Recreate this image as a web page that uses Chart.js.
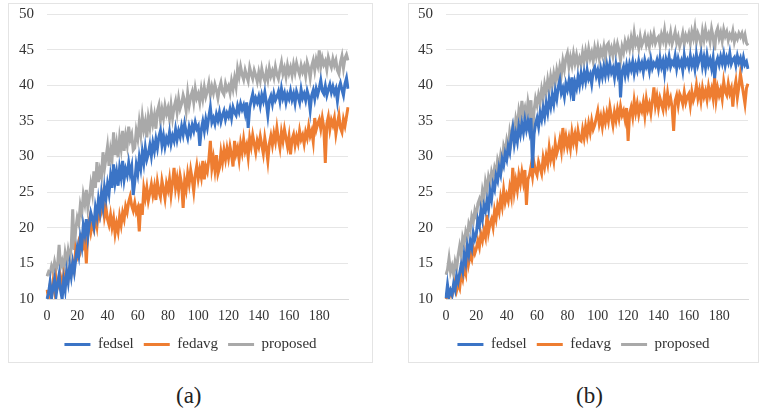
<!DOCTYPE html>
<html>
<head>
<meta charset="utf-8">
<script src="https://cdn.jsdelivr.net/npm/chart.js@4/dist/chart.umd.min.js"></script>
<style>
  body { margin: 0; background: #fff; width: 759px; height: 415px; position: relative; overflow: hidden; }
  .panel { position: absolute; top: 3px; height: 360px; border: 1px solid #e4e4e4; box-sizing: border-box; }
  #panel-a { left: 8px; width: 365px; }
  #panel-b { left: 408px; width: 351px; }
  .caption { position: absolute; top: 383px; font-family: "Liberation Serif", serif; font-size: 23px; color: #222; }
</style>
</head>
<body>
<div class="panel" id="panel-a"><canvas id="chart-a"></canvas></div>
<div class="panel" id="panel-b"><canvas id="chart-b"></canvas></div>
<div class="caption" style="left:176px">(a)</div>
<div class="caption" style="left:576px">(b)</div>
<script>
// x categories: communication rounds
const rounds = Array.from({ length: 200 }, (_, i) => i);
const xTickLabels = [0, 20, 40, 60, 80, 100, 120, 140, 160, 180];
const yTickLabels = [10, 15, 20, 25, 30, 35, 40, 45, 50];
const seriesNames = ["fedsel", "fedavg", "proposed"];
const seriesColors = ["#3b74c6", "#ee7d31", "#a9a9a9"];

// panel (a)
const fedselA = [
  10.0,10.8,12.3,10.2,11.6,12.8,10.5,12.1,13.4,11.2,10.0,12.6,11.3,13.8,12.4,14.6,13.2,15.1,13.8,15.6,
  17.2,16.1,18.6,17.4,20.3,19.1,21.2,18.8,20.6,22.1,21.3,20.2,22.8,21.6,23.9,22.4,24.8,23.1,25.6,24.2,
  26.1,24.8,27.2,25.6,28.9,26.4,27.8,25.9,28.4,27.1,29.4,26.8,28.2,27.4,29.1,27.6,28.6,24.6,26.4,28.8,
  27.6,29.8,28.4,30.6,29.1,31.2,29.6,30.4,31.6,30.1,31.9,30.8,32.4,31.2,32.8,33.6,31.6,32.9,31.4,32.6,
  32.0,33.4,31.8,32.9,32.2,33.8,32.4,33.6,32.8,34.2,33.1,34.6,33.4,32.6,34.1,33.2,34.4,33.6,34.8,33.9,
  34.3,31.5,33.8,34.9,33.6,35.2,34.1,35.6,36.9,34.8,35.4,34.6,35.9,35.1,36.2,34.9,35.8,36.4,35.2,36.1,
  35.6,36.6,35.4,36.9,36.2,35.8,37.1,36.3,37.4,36.6,37.2,36.1,37.6,34.0,36.8,37.9,38.8,37.4,38.2,37.6,
  38.4,37.2,38.6,37.8,39.0,37.6,35.8,37.9,38.5,37.4,38.8,37.9,38.4,39.1,37.8,39.5,38.2,38.9,37.6,38.7,
  38.1,39.2,38.0,38.8,37.5,39.1,38.4,37.6,39.4,38.2,38.8,37.9,39.2,38.4,36.5,38.6,39.3,38.1,39.5,38.7,
  39.6,40.7,39.2,38.8,39.9,38.6,39.4,40.1,39.0,39.8,38.9,39.5,37.8,39.6,40.3,39.4,38.6,40.2,41.0,39.5
];
const fedavgA = [
  11.3,10.2,11.8,10.6,12.4,11.1,12.9,11.6,12.2,13.1,12.0,13.4,12.4,13.8,12.8,14.2,13.6,15.1,14.3,17.0,
  16.2,17.8,16.9,18.4,17.6,18.9,15.0,19.6,21.0,19.4,20.6,19.8,21.4,20.2,22.6,21.5,22.3,24.1,21.6,22.8,
  21.2,20.4,21.8,20.1,21.3,19.2,20.6,19.5,21.6,20.4,22.1,21.2,23.0,22.2,23.6,24.4,23.1,22.4,23.5,22.2,
  22.8,19.5,23.4,21.8,25.5,24.2,25.6,23.8,24.9,26.1,24.6,25.8,23.9,26.4,25.1,24.3,26.6,25.4,24.1,26.2,
  25.3,26.8,24.6,26.4,28.4,25.6,26.9,25.2,27.3,26.1,22.8,26.6,25.4,27.6,26.2,28.1,26.8,25.1,27.4,28.7,
  26.9,28.2,27.1,29.4,26.8,28.6,27.9,29.6,32.2,28.4,29.8,28.1,30.2,27.6,28.4,30.6,29.2,30.9,29.6,31.1,
  29.8,31.4,30.2,28.6,32.2,30.4,31.2,29.6,31.8,30.6,32.4,30.8,31.6,29.9,32.6,31.4,33.0,31.8,30.6,32.2,
  31.4,32.8,31.6,30.4,32.6,31.2,29.4,31.8,32.9,31.6,33.2,32.1,34.0,32.4,31.2,33.4,32.2,33.8,32.6,31.4,
  32.8,30.3,32.4,33.1,31.6,32.8,31.9,33.6,32.4,33.0,31.8,33.4,32.6,34.2,32.9,33.6,32.1,35.4,33.8,34.6,
  35.2,33.9,35.4,34.1,29.1,34.6,35.6,33.8,35.1,34.4,35.4,33.2,34.6,35.8,34.0,33.4,35.2,34.3,35.6,36.9
];
const proposedA = [
  13.2,13.8,13.5,14.6,13.9,15.2,14.1,14.8,17.6,14.5,15.3,14.2,16.4,15.1,16.8,15.6,17.2,22.6,16.9,19.8,
  21.4,20.6,23.1,22.0,24.6,23.4,25.3,22.8,24.2,26.1,24.8,27.9,25.6,29.2,26.4,28.1,27.2,30.6,28.3,29.8,
  31.4,28.7,30.9,29.6,33.4,30.2,31.8,29.9,32.6,31.1,33.6,30.8,32.9,31.6,34.2,32.4,33.1,30.9,31.2,33.6,
  32.5,34.8,33.1,35.6,33.8,34.9,32.7,35.4,34.1,36.2,34.6,35.8,33.9,36.4,37.2,35.1,36.6,35.4,37.1,36.0,
  36.8,35.3,37.2,35.4,36.9,37.8,36.2,38.1,36.7,37.4,38.6,37.8,36.4,38.9,37.2,38.4,39.1,37.6,39.5,38.2,
  38.8,37.6,39.4,38.1,39.7,38.4,39.2,40.3,38.6,39.8,38.9,40.1,39.3,38.2,39.6,40.4,39.1,38.7,40.2,39.4,
  39.9,38.9,40.6,39.5,41.0,39.8,42.3,41.2,42.6,41.5,40.8,42.1,41.3,40.6,42.5,41.6,40.9,42.1,41.4,40.5,
  41.8,40.7,42.3,41.2,40.6,41.9,40.8,42.4,41.3,42.0,41.1,42.6,41.5,40.9,42.2,43.2,41.6,42.4,41.2,42.8,
  41.7,42.5,41.4,42.9,41.8,43.1,42.2,41.5,42.8,41.9,42.6,41.3,43.2,42.4,41.0,42.7,43.5,42.1,43.6,42.8,
  44.9,42.6,43.8,42.9,43.4,42.2,43.9,43.1,42.5,43.7,42.8,43.5,42.1,41.6,43.2,44.1,42.4,43.8,44.3,43.5
];

// panel (b)
const fedselB = [
  10.1,12.0,10.4,11.2,10.6,12.1,11.3,13.2,12.4,13.6,14.8,13.9,16.2,15.1,17.4,16.3,18.1,17.2,19.3,18.4,
  19.2,21.1,20.3,22.4,21.2,23.1,22.4,23.8,22.6,25.1,24.0,26.1,25.4,27.3,26.6,28.4,27.5,29.6,28.8,30.4,
  29.6,31.4,30.6,32.8,34.0,31.8,33.2,32.1,34.2,33.1,34.6,33.4,35.1,33.8,34.9,33.6,35.4,28.4,33.1,34.6,
  35.4,34.2,36.1,35.2,36.8,35.6,37.4,36.2,38.1,37.0,38.6,37.4,39.2,38.1,39.8,40.7,38.9,39.6,38.4,40.2,
  39.4,40.6,39.2,41.1,37.8,40.4,39.6,41.2,40.0,41.6,40.4,41.8,40.6,42.1,40.9,41.5,40.2,42.0,42.5,41.3,
  42.1,40.8,42.3,41.2,42.6,41.4,42.8,41.6,43.0,41.8,42.4,41.1,42.9,41.7,43.2,38.3,41.9,42.6,41.4,42.8,
  41.6,43.0,42.2,43.3,41.7,42.9,42.1,43.4,42.4,43.1,41.9,43.5,42.6,43.2,42.0,43.6,42.4,43.1,42.7,43.5,
  42.3,43.8,42.6,43.4,41.7,43.6,42.8,44.0,42.6,43.3,42.9,44.1,42.4,43.7,42.8,43.4,42.1,44.2,42.9,43.5,
  42.6,44.1,42.8,43.6,42.3,44.3,42.9,43.7,44.5,42.7,43.9,42.5,44.2,42.9,43.6,42.4,43.8,41.0,43.1,43.8,
  42.9,44.0,43.1,44.3,42.8,43.9,43.2,44.5,43.0,43.6,43.9,42.8,44.1,43.2,43.8,42.7,43.9,42.9,43.3,42.3
];
const fedavgB = [
  10.0,10.6,10.2,11.1,10.5,11.4,12.4,11.2,12.1,11.5,13.6,12.8,14.4,13.6,17.6,15.1,16.3,15.6,17.2,16.4,
  17.1,18.2,17.3,19.1,18.2,19.6,18.7,21.8,19.4,20.6,21.2,20.1,22.4,21.3,23.1,22.2,24.2,23.0,25.3,23.6,
  24.6,23.8,25.6,24.4,28.4,25.1,26.6,25.3,27.4,26.2,27.8,26.4,28.1,23.2,26.8,27.4,28.6,27.2,29.1,28.0,
  27.4,29.2,28.4,27.6,29.8,28.6,30.1,29.0,31.2,29.6,30.6,29.4,31.8,30.4,31.2,32.4,30.9,34.0,31.6,32.8,
  31.4,32.6,31.2,33.4,32.0,33.1,31.6,33.6,32.4,32.2,33.8,32.6,34.2,33.0,34.6,33.4,35.0,33.8,34.4,35.4,
  36.4,34.6,35.6,34.2,35.9,34.8,36.1,35.0,36.9,35.6,34.4,36.2,35.1,36.6,35.4,37.0,35.8,36.4,35.2,36.8,
  32.2,36.0,36.9,35.6,37.8,36.2,37.4,35.9,37.1,36.4,37.6,35.8,38.0,36.6,37.4,36.1,37.8,39.7,37.2,38.4,
  36.8,38.2,37.4,36.6,38.6,37.1,38.9,37.4,38.2,36.9,33.6,37.8,38.6,37.2,38.8,38.3,37.4,39.0,37.6,38.4,
  38.8,37.2,39.1,37.9,38.6,40.0,38.2,39.3,37.8,39.6,38.4,39.2,38.0,39.8,38.6,39.5,38.2,41.1,38.0,39.6,
  38.6,39.4,38.1,40.5,39.1,38.6,40.2,38.9,39.6,37.0,39.4,40.6,38.3,39.8,41.6,40.2,38.8,37.4,39.6,40.2
];
const proposedB = [
  13.4,14.1,15.7,13.8,14.6,13.5,15.2,14.3,16.1,17.4,16.2,18.6,17.8,19.4,18.6,20.5,19.8,21.6,20.9,22.4,
  21.6,23.4,24.0,23.1,25.2,24.1,26.4,25.3,27.1,26.2,27.8,26.9,28.4,27.6,29.5,28.7,30.2,29.1,31.4,30.6,
  32.2,31.1,33.4,32.2,34.1,33.0,35.2,34.1,36.4,35.3,37.8,35.9,36.8,35.4,37.6,36.2,37.9,33.2,36.4,38.1,
  37.2,38.6,37.6,39.4,38.2,40.1,39.0,40.7,39.3,41.2,40.0,41.6,40.4,42.1,41.0,42.6,41.5,43.4,42.2,43.8,
  44.5,42.6,43.9,42.8,44.4,43.1,44.2,42.9,43.8,43.0,44.6,43.4,44.8,43.6,45.1,43.8,44.6,43.4,45.2,44.1,
  45.3,43.8,45.0,44.2,45.4,43.9,45.6,45.9,44.4,45.2,44.1,45.6,44.6,45.8,44.9,43.5,45.4,44.6,46.1,45.2,
  46.2,45.1,46.6,45.4,47.3,45.8,46.4,45.2,46.8,45.6,46.2,47.0,45.7,46.6,45.4,46.9,46.1,47.2,45.9,46.5,
  46.8,45.6,47.1,46.3,47.7,45.9,46.9,46.2,47.4,45.8,46.6,47.5,46.0,46.8,45.5,46.3,47.3,45.8,47.0,46.4,
  47.2,45.9,47.5,46.6,48.0,46.1,47.3,46.7,45.7,47.6,46.4,47.8,46.6,47.2,46.1,47.9,46.8,44.9,47.4,48.0,
  46.6,47.4,46.2,47.8,46.9,47.5,46.3,47.1,46.6,47.6,46.1,47.0,46.5,47.3,46.8,47.3,46.4,47.1,45.9,45.6
];

Chart.defaults.font.family = "'Liberation Serif', 'Times New Roman', serif";
Chart.defaults.font.size = 14;
Chart.defaults.color = "#333";

const makeChart = (canvasId, values, yAxisWidth, rightGap) => {
    const ctx = document.getElementById(canvasId).getContext("2d");
    return new Chart(ctx, {
        type: "line",
        data: {
            labels: rounds,
            datasets: values.map((v, k) => ({
                label: seriesNames[k],
                data: v,
                borderColor: seriesColors[k],
                backgroundColor: seriesColors[k],
                borderWidth: 3,
                pointRadius: 0,
                tension: 0,
                pointStyle: "line",
            })),
        },
        options: {
            responsive: false,
            animation: false,
            layout: { padding: { top: 10, right: 0, bottom: 0, left: 0 } },
            plugins: {
                tooltip: { enabled: false },
                legend: {
                    position: "bottom",
                    labels: {
                        usePointStyle: true,
                        pointStyleWidth: 26,
                        padding: 10,
                        color: "#333",
                        font: { size: 15 },
                    },
                },
            },
            scales: {
                x: {
                    grid: { display: false, drawTicks: false },
                    border: { color: "#d9d9d9" },
                    afterFit: (scale) => { scale.height = 28; },
                    ticks: {
                        autoSkip: false,
                        maxRotation: 0,
                        padding: 9,
                        callback: (val, i) => (xTickLabels.includes(rounds[i]) ? rounds[i] : ""),
                    },
                },
                y: {
                    min: yTickLabels[0],
                    max: yTickLabels[yTickLabels.length - 1],
                    afterFit: (scale) => {
                        scale.width = yAxisWidth;
                        scale.paddingTop = 0;
                        scale.paddingBottom = 0;
                    },
                    grid: { color: "#e6e6e6", drawTicks: false },
                    border: { display: false },
                    ticks: { stepSize: 5, padding: 13, font: { size: 15 } },
                },
                // empty right axis keeps the plot narrower than the legend row
                gap: {
                    position: "right",
                    display: true,
                    grid: { display: false, drawTicks: false },
                    border: { display: false },
                    ticks: { display: false },
                    afterFit: (scale) => { scale.width = rightGap; },
                },
            },
        },
    });
};

document.getElementById("chart-a").width = 363;
document.getElementById("chart-a").height = 358;
document.getElementById("chart-b").width = 349;
document.getElementById("chart-b").height = 358;

makeChart("chart-a", [fedselA, fedavgA, proposedA], 38, 24);
makeChart("chart-b", [fedselB, fedavgB, proposedB], 37, 10);
</script>
</body>
</html>
